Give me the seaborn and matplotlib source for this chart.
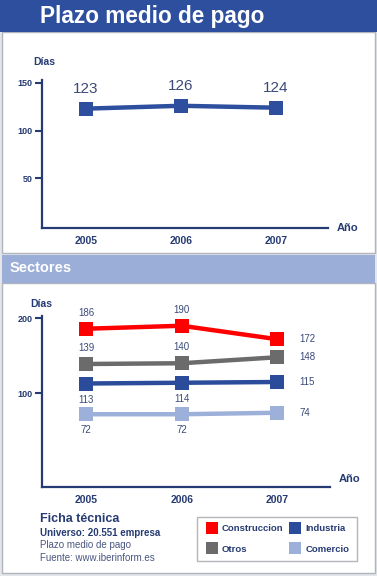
import numpy as np
import pandas as pd
import matplotlib.pyplot as plt
import matplotlib.patches as mpatches
from matplotlib.lines import Line2D
import seaborn as sns

sns.set_theme(style="white")
plt.rcParams['font.family'] = ['Liberation Sans', 'DejaVu Sans']

# datos
years = ['2005', '2006', '2007']
total = [123, 126, 124]
sectores = ['Construccion', 'Otros', 'Industria', 'Comercio']
construccion = [186, 190, 172]
otros = [139, 140, 148]
industria = [113, 114, 115]
comercio = [72, 72, 74]

colores = {'Construccion': '#FF0000', 'Otros': '#6B6B6B',
           'Industria': '#2B4C9B', 'Comercio': '#9DB0DA'}
navy = '#263B73'
txt = '#3B4A78'

fig = plt.figure(figsize=(3.77, 5.76), dpi=100)
fig.patch.set_facecolor('#E4E6EA')

def px(x, y, w, h):
    # caja en pixeles (desde arriba) -> fraccion de figura
    return [x / 377, 1 - (y + h) / 576, w / 377, h / 576]

def caja(x, y, w, h, **kw):
    r = mpatches.Rectangle((x / 377, 1 - (y + h) / 576), w / 377, h / 576,
                           transform=fig.transFigure, zorder=-5, **kw)
    fig.patches.append(r)

# fondos y barras de titulo
caja(2, 32, 373, 221, facecolor='white', edgecolor='#B0B4BC', lw=1)
caja(2, 283, 373, 290, facecolor='white', edgecolor='#B0B4BC', lw=1)
caja(0, 0, 377, 32, facecolor='#2D4F9E', edgecolor='none')
caja(2, 255, 373, 28, facecolor='#9AAED8', edgecolor='none')
fig.text(40/377, 1-16/576, 'Plazo medio de pago', color='white', fontsize=16.3,
         fontweight='bold', va='center', ha='left')
fig.text(10/377, 1-268/576, 'Sectores', color='white', fontsize=10.5,
         fontweight='bold', va='center', ha='left')

def estilo(ax, yticks):
    for s in ['top', 'right']:
        ax.spines[s].set_visible(False)
    for s in ['left', 'bottom']:
        ax.spines[s].set_color(navy)
        ax.spines[s].set_linewidth(1.6)
    ax.set_yticks(yticks)
    ax.tick_params(axis='y', direction='out', length=5, width=1.5, color=navy,
                   labelsize=6.5, labelcolor=navy, pad=2, left=True)
    for t in ax.get_yticklabels():
        t.set_fontweight('bold')
    ax.tick_params(axis='x', length=0, labelsize=7.5, labelcolor=navy, pad=6)
    for t in ax.get_xticklabels():
        t.set_fontweight('bold')
    ax.set_xlabel('')
    ax.set_ylabel('')
    ax.patch.set_alpha(0)

# grafico 1
ax1 = fig.add_axes(px(42, 80, 286, 148))
df1 = pd.DataFrame({'year': np.arange(3), 'dias': total})
sns.lineplot(data=df1, x='year', y='dias', ax=ax1, color='#2D4F9E', lw=3.2,
             marker='s', markersize=10, markeredgewidth=0)
ax1.set_xlim(-0.46, 2.55)
ax1.set_ylim(-2, 153)
ax1.set_xticks(np.arange(3))
ax1.set_xticklabels(years)
estilo(ax1, [50, 100, 150])
for i, v in enumerate(total):
    ax1.annotate(str(v), (i, v), xytext=(0, 9), textcoords='offset points',
                 ha='center', va='bottom', fontsize=11, color=txt)
ax1.text(1.03, 0, 'Año', transform=ax1.transAxes, ha='left', va='center',
         fontsize=8, fontweight='bold', color=navy)
ax1.text(-0.03, 1.12, 'Días', transform=ax1.transAxes, ha='left', va='center',
         fontsize=7.5, fontweight='bold', color=navy)

# grafico 2
ax2 = fig.add_axes(px(42, 316, 288, 171))
df2 = pd.DataFrame({
    'year': np.tile(np.arange(3), 4),
    'sector': np.repeat(sectores, 3),
    'dias': construccion + otros + industria + comercio,
})
sns.lineplot(data=df2, x='year', y='dias', hue='sector', hue_order=sectores,
             palette=colores, ax=ax2, lw=3.2, marker='s', markersize=10,
             markeredgewidth=0, legend=False)
ax2.set_xlim(-0.46, 2.55)
ax2.set_ylim(-25, 203)
ax2.set_xticks(np.arange(3))
ax2.set_xticklabels(years)
estilo(ax2, [100, 200])
series = {'Construccion': (construccion, 'up'), 'Otros': (otros, 'up'),
          'Industria': (industria, 'down'), 'Comercio': (comercio, 'down')}
for nombre, (vals, pos) in series.items():
    for i, v in enumerate(vals):
        if i == 2:
            off, ha, va = (16, 0), 'left', 'center'
        elif pos == 'up':
            off, ha, va = (0, 8), 'center', 'bottom'
        else:
            off, ha, va = (0, -8), 'center', 'top'
        ax2.annotate(str(v), (i, v), xytext=off, textcoords='offset points',
                     ha=ha, va=va, fontsize=7, color=txt)
ax2.text(1.03, 0.045, 'Año', transform=ax2.transAxes, ha='left', va='center',
         fontsize=8, fontweight='bold', color=navy)
ax2.text(-0.04, 1.07, 'Días', transform=ax2.transAxes, ha='left', va='center',
         fontsize=7.5, fontweight='bold', color=navy)

# ficha tecnica
fig.text(40/377, 1-519/576, 'Ficha técnica', fontsize=9, fontweight='bold', color=navy, va='center')
fig.text(40/377, 1-533/576, 'Universo: 20.551 empresa', fontsize=7, fontweight='bold', color=navy, va='center')
fig.text(40/377, 1-545/576, 'Plazo medio de pago', fontsize=7, color='#4A5680', va='center')
fig.text(40/377, 1-558/576, 'Fuente: www.iberinform.es', fontsize=7, color='#4A5680', va='center')

# leyenda
handles = [Line2D([], [], ls='none', marker='s', markersize=9, markeredgewidth=0,
                  color=colores[s], label=s) for s in ['Construccion', 'Otros', 'Industria', 'Comercio']]
leg = fig.legend(handles=handles, ncol=2, loc='center',
                 bbox_to_anchor=(277/377, 1-539/576), frameon=True, fontsize=6.8,
                 handletextpad=0.3, columnspacing=0.5, borderpad=0.8, labelspacing=1.2,
                 handlelength=1.5, fancybox=False, edgecolor='#A0A4AC')
for t in leg.get_texts():
    t.set_color(navy)
    t.set_fontweight('bold')

fig.savefig('out.png', dpi=100)
